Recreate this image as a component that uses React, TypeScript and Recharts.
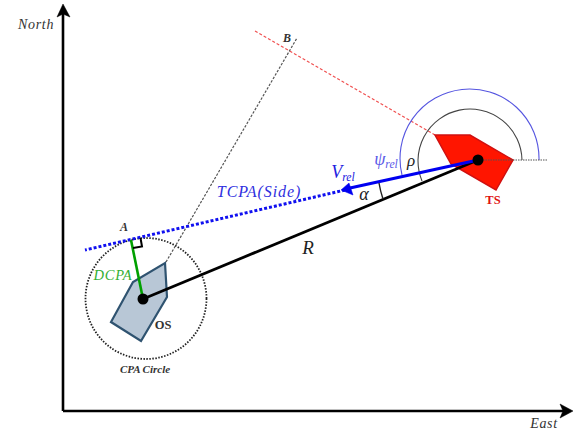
import React from "react";
import { ScatterChart, Scatter, XAxis, YAxis } from "recharts";

type P = { x: number; y: number };
const serif = "'Liberation Serif', 'DejaVu Serif', serif";

const northAxis: P[] = [{ x: 63, y: 411 }, { x: 63, y: 12 }];
const eastAxis: P[] = [{ x: 63, y: 411 }, { x: 566, y: 411 }];
const northHead: P[] = [{ x: 63, y: 4 }, { x: 70, y: 17 }, { x: 63, y: 14 }, { x: 57, y: 17 }];
const eastHead: P[] = [{ x: 573, y: 411 }, { x: 560, y: 418 }, { x: 563, y: 411 }, { x: 560, y: 404 }];
const ownShip: P[] = [{ x: 165, y: 263 }, { x: 167, y: 297 }, { x: 141, y: 341 }, { x: 111, y: 322 }, { x: 133, y: 282 }];
const targetShip: P[] = [{ x: 435, y: 135 }, { x: 470, y: 135 }, { x: 513, y: 160 }, { x: 496, y: 190 }, { x: 451, y: 164 }];
const cpaCenter: P[] = [{ x: 146, y: 298.5 }];
const shipCenters: P[] = [{ x: 143, y: 299 }, { x: 478, y: 160 }];
const rangeLine: P[] = [{ x: 143, y: 299 }, { x: 478, y: 160 }];
const velocityLine: P[] = [{ x: 478, y: 160 }, { x: 350, y: 188 }];
const velocityHead: P[] = [{ x: 341, y: 190 }, { x: 349, y: 183 }, { x: 353, y: 195 }];
const extension: P[] = [{ x: 345, y: 190 }, { x: 85, y: 250 }];
const dcpaLine: P[] = [{ x: 143, y: 299 }, { x: 131, y: 240 }];
const rightAngle: P[] = [{ x: 133, y: 248 }, { x: 142, y: 246.5 }, { x: 140.5, y: 238 }];
const sideLine: P[] = [{ x: 166, y: 262 }, { x: 297, y: 38 }];
const redLine: P[] = [{ x: 255, y: 31 }, { x: 435, y: 135 }];
const eastRef: P[] = [{ x: 478, y: 160 }, { x: 548, y: 160 }];
const rhoArc: P[] = [{ x: 422, y: 181 }, { x: 522, y: 160 }];
const psiArc: P[] = [{ x: 402, y: 175 }, { x: 539, y: 160 }];
const alphaArc: P[] = [{ x: 379, y: 183 }, { x: 383, y: 199 }];

const labels = [
  { x: 36, y: 29, text: "North", size: 14, color: "#333", italic: true, bold: false, gap: 0.7 },
  { x: 544, y: 428, text: "East", size: 14, color: "#333", italic: true, bold: false, gap: 0.6 },
  { x: 287, y: 42, text: "B", size: 12, color: "#333", italic: true, bold: true, gap: 0 },
  { x: 124, y: 231, text: "A", size: 12, color: "#333", italic: true, bold: true, gap: 0 },
  { x: 113, y: 280, text: "DCPA", size: 14.5, color: "#33b033", italic: true, bold: false, gap: 0.7 },
  { x: 163, y: 329, text: "OS", size: 12.5, color: "#333", italic: false, bold: true, gap: 0 },
  { x: 145, y: 373, text: "CPA Circle", size: 11, color: "#333", italic: true, bold: true, gap: 0 },
  { x: 493, y: 204, text: "TS", size: 12.5, color: "#e01010", italic: false, bold: true, gap: 0 },
  { x: 308, y: 254, text: "R", size: 19, color: "#222", italic: true, bold: false, gap: 0 },
  { x: 364, y: 200, text: "α", size: 18, color: "#222", italic: true, bold: false, gap: 0 },
  { x: 411, y: 166, text: "ρ", size: 17, color: "#222", italic: true, bold: false, gap: 0 },
  { x: 259, y: 197, text: "TCPA(Side)", size: 16, color: "#3030e0", italic: true, bold: false, gap: 0.9 },
];
const subLabels = [
  { x: 343, y: 178, text: "V", sub: "rel", size: 18, color: "#2020e0" },
  { x: 386, y: 165, text: "ψ", sub: "rel", size: 18, color: "#5a5ae8" },
];

const noDot = () => null;
const polyline = (data: P[], stroke: string, width: number, dash?: string) => (
  <Scatter data={data} isAnimationActive={false} shape={noDot}
    line={{ stroke, strokeWidth: width, strokeDasharray: dash, fill: "none" }} />
);
const polygon = (data: P[], fill: string, stroke: string, width: number) => (
  <Scatter data={data} isAnimationActive={false} shape={noDot} lineJointType="linearClosed"
    line={{ stroke, strokeWidth: width, fill, strokeLinejoin: "miter" }} />
);
const arc = (data: P[], r: number, large: number, sweep: number, stroke: string, width: number) => (
  <Scatter data={data} isAnimationActive={false} shape={noDot}
    line={(props: any) => {
      const pts = props.points;
      const d = `M${pts[0].x},${pts[0].y} A${r},${r} 0 ${large} ${sweep} ${pts[1].x},${pts[1].y}`;
      return <path d={d} fill="none" stroke={stroke} strokeWidth={width} />;
    }} />
);

export default function App() {
  return (
    <div style={{ position: "absolute", left: 0, top: 0, width: 573, height: 432 }}>
      <ScatterChart width={573} height={432} margin={{ top: 0, right: 0, bottom: 0, left: 0 }}>
        <XAxis type="number" dataKey="x" domain={[0, 573]} hide />
        <YAxis type="number" dataKey="y" domain={[0, 432]} reversed hide />
        {polyline(redLine, "#f05050", 1.2, "3 2")}
        {polyline(sideLine, "#555", 1.2, "2.5 1.5")}
        {arc(rhoArc, 52, 1, 1, "#444", 1.1)}
        {arc(psiArc, 69.5, 1, 1, "#5555e0", 1.1)}
        {polygon(targetShip, "#ff1500", "#d01010", 1.5)}
        {polygon(ownShip, "#b8c7d6", "#2f5370", 2.2)}
        <Scatter data={cpaCenter} isAnimationActive={false}
          shape={(p: any) => <circle cx={p.cx} cy={p.cy} r={60.5} fill="none" stroke="#222" strokeWidth={1.8} strokeDasharray="1.5 1.5" />} />
        {polyline(eastRef, "#555", 1.2, "1.5 1")}
        {polyline(extension, "#1010f0", 3, "3 2")}
        {polyline(rangeLine, "#000", 2.8)}
        {polyline(dcpaLine, "#00a000", 2.6)}
        {polyline(rightAngle, "#000", 2)}
        {polyline(velocityLine, "#0000f0", 3)}
        {polygon(velocityHead, "#0000f0", "#0000f0", 0.5)}
        {arc(alphaArc, 107, 0, 0, "#222", 1.4)}
        {polyline(northAxis, "#000", 2.6)}
        {polyline(eastAxis, "#000", 2.6)}
        {polygon(northHead, "#000", "#000", 0.5)}
        {polygon(eastHead, "#000", "#000", 0.5)}
        <Scatter data={shipCenters} isAnimationActive={false}
          shape={(p: any) => <circle cx={p.cx} cy={p.cy} r={5.5} fill="#000" />} />
        {labels.map((l) => (
          <Scatter key={l.text} data={[{ x: l.x, y: l.y }]} isAnimationActive={false}
            shape={(p: any) => (
              <text x={p.cx} y={p.cy} textAnchor="middle" fontFamily={serif} fontSize={l.size} fill={l.color}
                fontStyle={l.italic ? "italic" : "normal"} fontWeight={l.bold ? 700 : 400} letterSpacing={l.gap}>
                {l.text}
              </text>
            )} />
        ))}
        {subLabels.map((l) => (
          <Scatter key={l.text} data={[{ x: l.x, y: l.y }]} isAnimationActive={false}
            shape={(p: any) => (
              <text x={p.cx} y={p.cy} textAnchor="middle" fontFamily={serif} fontSize={l.size} fill={l.color} fontStyle="italic">
                {l.text}
                <tspan fontSize={l.size * 0.65} dy={3}>{l.sub}</tspan>
              </text>
            )} />
        ))}
      </ScatterChart>
    </div>
  );
}
